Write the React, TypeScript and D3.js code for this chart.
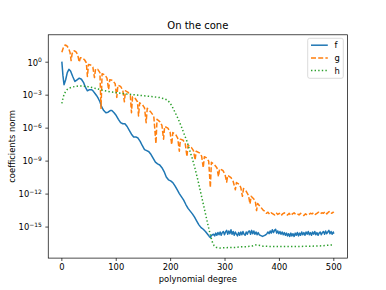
import React from 'react'
import * as d3 from 'd3'

// [polynomial degree, log10 of coefficients norm]
const fData: [number, number][] = [
  [0, 0.05], [2, -1.2], [4, -2.05], [7, -1.6], [10, -0.95], [13, -0.65], [16, -0.8], [20, -1.3],
  [24, -1.75], [28, -1.6], [32, -1.45], [36, -1.55], [40, -1.85], [43, -2.25], [47, -2.6], [51, -2.5],
  [55, -2.5], [58, -2.65], [61, -2.85], [64, -3.05], [67, -3.3], [70, -3.6], [73, -4.05], [77, -4.4],
  [81, -4.6], [85, -4.55], [89, -4.4], [92, -4.4], [96, -4.6], [100, -4.85], [104, -5.2], [108, -5.5],
  [112, -5.6], [116, -5.6], [120, -5.85], [124, -6.2], [128, -6.55], [132, -6.8], [136, -6.8], [140, -6.9],
  [144, -7.2], [148, -7.6], [152, -7.95], [156, -8.05], [160, -8.15], [164, -8.4], [168, -8.75], [172, -9.1],
  [176, -9.25], [180, -9.35], [184, -9.6], [188, -9.95], [192, -10.45], [196, -10.7], [200, -10.8], [204, -10.95],
  [208, -11.25], [212, -11.6], [216, -11.95], [220, -12.25], [224, -12.55], [228, -12.95], [232, -13.3], [236, -13.55],
  [240, -13.8], [244, -14.1], [248, -14.45], [252, -14.8], [256, -15.05], [260, -15.2], [264, -15.4], [268, -15.65],
  [271, -15.85], [273, -15.96], [275, -15.75], [277, -15.7], [279, -15.65], [281, -15.8], [283, -15.55], [285, -15.75],
  [287, -15.5], [289, -15.7], [291, -15.45], [293, -15.75], [295, -15.5], [297, -15.4], [299, -15.7], [301, -15.45],
  [303, -15.3], [305, -15.65], [307, -15.35], [309, -15.6], [311, -15.25], [313, -15.65], [315, -15.4], [317, -15.75],
  [319, -15.45], [321, -15.65], [323, -15.8], [325, -15.5], [327, -15.75], [329, -15.45], [331, -15.7], [333, -15.4],
  [335, -15.65], [337, -15.75], [339, -15.45], [341, -15.65], [343, -15.4], [345, -15.35], [347, -15.65], [349, -15.3],
  [351, -15.6], [353, -15.35], [355, -15.65], [357, -15.45], [359, -15.7], [361, -15.5], [363, -15.7], [365, -15.75],
  [367, -15.8], [369, -15.85], [371, -15.8], [373, -15.75], [375, -15.7], [377, -15.6], [379, -15.45], [381, -15.6],
  [383, -15.35], [385, -15.55], [387, -15.25], [389, -15.5], [391, -15.3], [393, -15.2], [395, -15.55], [397, -15.35],
  [399, -15.6], [401, -15.4], [403, -15.65], [405, -15.45], [407, -15.7], [409, -15.5], [411, -15.75], [413, -15.55],
  [415, -15.8], [417, -15.6], [419, -15.85], [421, -15.55], [423, -15.8], [425, -15.6], [427, -15.85], [429, -15.55],
  [431, -15.75], [433, -15.5], [435, -15.8], [437, -15.55], [439, -15.75], [441, -15.45], [443, -15.7], [445, -15.5],
  [447, -15.75], [449, -15.45], [451, -15.65], [453, -15.4], [455, -15.7], [457, -15.5], [459, -15.75], [461, -15.45],
  [463, -15.65], [465, -15.4], [467, -15.7], [469, -15.5], [471, -15.75], [473, -15.55], [475, -15.45], [477, -15.7],
  [479, -15.5], [481, -15.4], [483, -15.65], [485, -15.35], [487, -15.6], [489, -15.45], [491, -15.3], [493, -15.6],
  [495, -15.4], [497, -15.65], [499, -15.45], [500, -15.6]
]

const gData: [number, number][] = [
  [0, 0.9], [3, 1.35], [6, 1.57], [9, 1.5], [12, 1.3], [15, 0.9], [17, 0.15], [19, 0.8], [22, 1.05], [26, 0.95],
  [29, 0.7], [32, 0.0], [34, 0.4], [38, 0.4], [42, 0.2], [45, -0.05], [47, -1.3], [49, -0.2], [53, -0.25], [57, -0.45],
  [60, -1.4], [62, -0.6], [66, -0.65], [70, -0.95], [72, -4.2], [74, -1.05], [79, -1.15], [83, -1.45], [86, -2.5], [88, -1.6],
  [93, -1.65], [98, -1.95], [101, -3.2], [103, -2.1], [108, -2.2], [112, -2.55], [115, -3.6], [117, -2.6], [122, -2.75], [126, -3.05],
  [128, -4.6], [130, -3.15], [135, -3.3], [139, -3.6], [141, -4.9], [143, -3.7], [148, -3.85], [152, -4.15], [155, -5.5], [157, -4.2],
  [163, -4.5], [169, -4.9], [173, -7.4], [175, -5.2], [180, -5.4], [184, -5.75], [187, -7.0], [189, -5.85], [195, -6.0], [199, -6.35],
  [202, -7.5], [204, -6.4], [209, -6.55], [213, -6.9], [216, -8.1], [218, -7.0], [223, -7.1], [227, -7.45], [230, -8.6], [232, -7.55],
  [238, -7.75], [242, -8.05], [245, -8.9], [247, -8.1], [253, -8.25], [257, -8.55], [260, -9.6], [262, -8.6], [266, -8.7], [270, -9.0],
  [273, -11.4], [275, -9.1], [280, -9.3], [285, -9.6], [288, -10.4], [290, -9.7], [296, -9.85], [300, -10.2], [303, -10.9], [305, -10.3],
  [311, -10.5], [315, -10.85], [319, -11.6], [321, -10.95], [326, -11.1], [329, -11.4], [332, -12.2], [334, -11.5], [339, -11.75], [343, -12.1],
  [346, -12.9], [348, -12.2], [353, -12.45], [356, -12.75], [358, -13.5], [360, -12.85], [365, -13.15], [370, -13.45],
  [373, -13.55], [376, -13.75], [379, -13.65], [382, -13.85], [385, -13.7], [388, -13.8], [391, -13.9], [394, -13.7], [397, -13.85],
  [400, -13.75], [403, -13.95], [406, -13.8], [409, -13.7], [412, -13.85], [415, -13.9], [418, -13.75], [421, -13.95], [424, -13.8],
  [427, -13.7], [430, -13.85], [433, -13.8], [436, -13.9], [439, -13.75], [442, -13.85], [445, -13.95], [448, -13.8], [451, -13.9],
  [454, -13.85], [457, -13.75], [460, -13.8], [463, -13.7], [466, -13.85], [469, -13.75], [472, -13.65], [475, -13.8], [478, -13.7],
  [481, -13.75], [484, -13.6], [487, -13.8], [490, -13.65], [493, -13.55], [496, -13.75], [499, -13.65], [500, -13.7]
]

const hData: [number, number][] = [
  [0, -3.75], [2, -3.3], [4, -2.95], [7, -2.65], [10, -2.48], [14, -2.35], [20, -2.25], [28, -2.18], [36, -2.16],
  [45, -2.2], [55, -2.3], [65, -2.42], [75, -2.55], [90, -2.7], [105, -2.8], [120, -2.9], [135, -2.97], [150, -3.05],
  [165, -3.12], [180, -3.22], [188, -3.32], [194, -3.45], [198, -3.65], [202, -3.95], [206, -4.35], [211, -4.85],
  [216, -5.4], [220, -5.9], [225, -6.55], [230, -7.2], [235, -8.0], [240, -8.8], [245, -9.7], [250, -10.7], [255, -11.8],
  [260, -12.9], [265, -14.0], [270, -15.1], [274, -15.9], [277, -16.4], [280, -16.7], [284, -16.85], [290, -16.9],
  [300, -16.88], [310, -16.85], [320, -16.85], [330, -16.8], [340, -16.78], [350, -16.72], [356, -16.62], [362, -16.65],
  [370, -16.74], [380, -16.76], [400, -16.77], [420, -16.78], [440, -16.76], [460, -16.74], [480, -16.7], [490, -16.65],
  [500, -16.62]
]

const seriesNames = ['f', 'g', 'h']
const seriesColors = ['#1f77b4', '#ff7f0e', '#2ca02c']
const seriesDash = ['none', '5,2.2', '1.4,2.2']
const xTicks = [0, 100, 200, 300, 400, 500]
const yTickExps = [0, -3, -6, -9, -12, -15]

const W = 386
const H = 290
const margin = { top: 34.8, right: 38.6, bottom: 31.9, left: 48.25 }
const font = 'DejaVu Sans, sans-serif'

export default function App() {
  const all = [fData, gData, hData]
  const xs = all.flat().map(d => d[0])
  const es = all.flat().map(d => d[1])
  const xMin = d3.min(xs)!, xMax = d3.max(xs)!
  const eMin = d3.min(es)!, eMax = d3.max(es)!
  const xPad = (xMax - xMin) * 0.05
  const ePad = (eMax - eMin) * 0.05

  const x = d3.scaleLinear()
    .domain([xMin - xPad, xMax + xPad])
    .range([margin.left, W - margin.right])

  const y = d3.scaleLog()
    .domain([Math.pow(10, eMin - ePad), Math.pow(10, eMax + ePad)])
    .range([H - margin.bottom, margin.top])

  const line = d3.line<[number, number]>()
    .x(d => x(d[0]))
    .y(d => y(Math.pow(10, d[1])))

  const x0 = margin.left, x1 = W - margin.right
  const y0 = margin.top, y1 = H - margin.bottom
  const tick = 2.9

  return (
    <svg width={W} height={H} style={{ position: 'absolute', left: 0, top: 0, background: '#fff' }}
      fontFamily={font}>
      <defs>
        <clipPath id="plot">
          <rect x={x0} y={y0} width={x1 - x0} height={y1 - y0} />
        </clipPath>
      </defs>
      <rect x={0} y={0} width={W} height={H} fill="#fff" />

      <g clipPath="url(#plot)">
        {all.map((data, i) => (
          <path key={seriesNames[i]} d={line(data)!} fill="none" stroke={seriesColors[i]}
            strokeWidth={1.5} strokeDasharray={seriesDash[i]} strokeLinejoin="round" />
        ))}
      </g>

      <rect x={x0} y={y0} width={x1 - x0} height={y1 - y0} fill="none" stroke="#000" strokeWidth={0.7} />

      {xTicks.map(t => (
        <g key={t}>
          <line x1={x(t)} x2={x(t)} y1={y1} y2={y1 + tick} stroke="#000" strokeWidth={0.7} />
          <text x={x(t)} y={y1 + 12.3} textAnchor="middle" fontSize={8.4} fill="#000">{t}</text>
        </g>
      ))}

      {yTickExps.map(e => {
        const yy = y(Math.pow(10, e))
        return (
          <g key={e}>
            <line x1={x0 - tick} x2={x0} y1={yy} y2={yy} stroke="#000" strokeWidth={0.7} />
            <text x={x0 - 2 * tick - 0.5} y={yy + 3.3} textAnchor="end" fontSize={8.4} fill="#000">
              10<tspan dy={-3.6} fontSize={6}>{e === 0 ? '0' : '\u2212' + Math.abs(e)}</tspan>
            </text>
          </g>
        )
      })}

      <text x={(x0 + x1) / 2} y={29.3} textAnchor="middle" fontSize={10} fill="#000">On the cone</text>
      <text x={(x0 + x1) / 2} y={282} textAnchor="middle" fontSize={8.4} fill="#000">polynomial degree</text>
      <text transform={`translate(14.5,${(y0 + y1) / 2}) rotate(-90)`} textAnchor="middle" fontSize={8.4}
        fill="#000">coefficients norm</text>

      <g>
        <rect x={307.7} y={38.3} width={35.6} height={40} rx={2} fill="#fff" fillOpacity={0.8}
          stroke="#cccccc" strokeWidth={0.7} />
        {seriesNames.map((n, i) => {
          const ly = 45.2 + i * 12.7
          return (
            <g key={n}>
              <line x1={311} x2={327.8} y1={ly} y2={ly} stroke={seriesColors[i]} strokeWidth={1.5}
                strokeDasharray={seriesDash[i]} />
              <text x={334.6} y={ly + 3} fontSize={8.4} fill="#000">{n}</text>
            </g>
          )
        })}
      </g>
    </svg>
  )
}
